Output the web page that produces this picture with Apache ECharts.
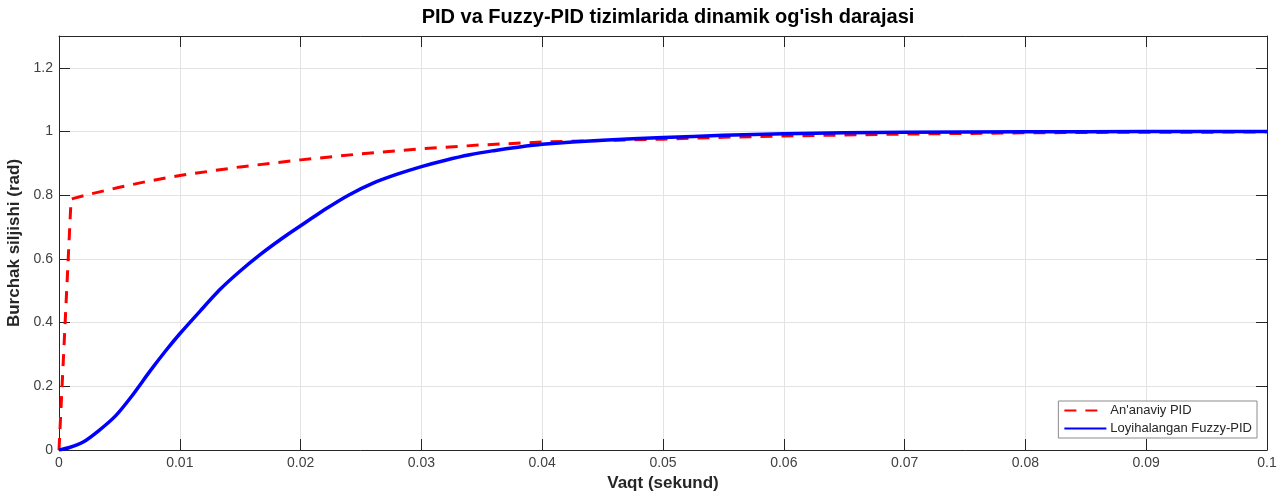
<!DOCTYPE html>
<html>
<head>
<meta charset="utf-8">
<script src="https://cdn.jsdelivr.net/npm/echarts@6/dist/echarts.min.js"></script>
<style>
  html, body { margin: 0; padding: 0; background: #fff; }
  #chart { width: 1287px; height: 492px; }
</style>
</head>
<body>
<div id="chart"></div>
<script>
// values
const pidT = [0, 0.001, 0.0025, 0.005, 0.0075, 0.01, 0.015, 0.02, 0.025, 0.03, 0.035, 0.04, 0.045, 0.05, 0.055, 0.06, 0.065, 0.07, 0.075, 0.08, 0.085, 0.09, 0.095, 0.1];
const pidY = [0, 0.788, 0.803, 0.825, 0.845, 0.862, 0.889, 0.911, 0.93, 0.946, 0.958, 0.967, 0.972, 0.976, 0.982, 0.986, 0.989, 0.992, 0.994, 0.996, 0.997, 0.998, 0.998, 0.999];

const fuzzyT = [0, 0.0008, 0.002, 0.0033, 0.0047, 0.006, 0.0075, 0.0088, 0.01, 0.0117, 0.0133, 0.015, 0.0167, 0.0186, 0.02, 0.022, 0.024, 0.026, 0.028, 0.03, 0.032, 0.034, 0.036, 0.038, 0.04, 0.045, 0.05, 0.055, 0.06, 0.065, 0.07, 0.08, 0.09, 0.1];
const fuzzyY = [0, 0.007, 0.025, 0.061, 0.108, 0.168, 0.246, 0.31, 0.365, 0.437, 0.503, 0.562, 0.615, 0.668, 0.704, 0.755, 0.801, 0.838, 0.866, 0.89, 0.91, 0.927, 0.94, 0.951, 0.96, 0.973, 0.981, 0.988, 0.993, 0.996, 0.998, 0.999, 1, 1];

const seriesNames = ["An'anaviy PID", 'Loyihalangan Fuzzy-PID'];

const pair = (xs, ys) => xs.map((x, i) => [x, ys[i]]);

const font = 'Liberation Sans, Arial, Helvetica, sans-serif';
const axisColor = '#262626';
const gridColor = '#e3e3e3';

const chart = echarts.init(document.getElementById('chart'));
chart.setOption({
  animation: false,
  backgroundColor: '#fff',
  textStyle: { fontFamily: font },
  title: {
    text: "PID va Fuzzy-PID tizimlarida dinamik og'ish darajasi",
    left: 663,
    textAlign: 'center',
    top: 2,
    textStyle: { fontSize: 20, fontWeight: 'bold', color: '#000', fontFamily: font }
  },
  grid: { left: 59, right: 20, top: 36, bottom: 42, containLabel: false, outerBoundsMode: 'none' },
  legend: {
    orient: 'vertical',
    right: 30,
    bottom: 54,
    itemWidth: 42,
    itemHeight: 12,
    itemGap: 5,
    padding: [3, 5, 3, 5],
    backgroundColor: '#fff',
    borderColor: '#8c8c8c',
    borderWidth: 1,
    borderRadius: 0,
    align: 'left',
    itemStyle: { color: 'rgba(0,0,0,0)', borderWidth: 0, opacity: 0 },
    textStyle: { fontSize: 13, color: '#262626', fontFamily: font, padding: [0, 0, 0, -1] },
    data: seriesNames
  },
  xAxis: [
    {
      type: 'value', min: 0, max: 0.1, interval: 0.01,
      name: 'Vaqt (sekund)', nameLocation: 'middle', nameGap: 25,
      nameTextStyle: { fontSize: 17, fontWeight: 'bold', color: '#262626', fontFamily: font },
      axisLine: { show: true, lineStyle: { color: axisColor, width: 1 } },
      axisTick: { show: true, inside: true, length: 11, lineStyle: { color: axisColor } },
      axisLabel: { fontSize: 14, color: '#404040', margin: 6, fontFamily: font },
      splitLine: { show: true, lineStyle: { color: gridColor, width: 1 } }
    },
    {
      type: 'value', min: 0, max: 0.1, interval: 0.01, position: 'top',
      axisLine: { show: true, onZero: false, lineStyle: { color: axisColor, width: 1 } },
      axisTick: { show: true, inside: true, length: 11, lineStyle: { color: axisColor } },
      axisLabel: { show: false },
      splitLine: { show: false }
    }
  ],
  yAxis: [
    {
      type: 'value', min: 0, max: 1.3, interval: 0.2,
      name: 'Burchak siljishi (rad)', nameLocation: 'middle', nameGap: 30,
      nameTextStyle: { fontSize: 17, fontWeight: 'bold', color: '#262626', fontFamily: font },
      axisLine: { show: true, lineStyle: { color: axisColor, width: 1 } },
      axisTick: { show: true, inside: true, length: 11, lineStyle: { color: axisColor } },
      axisLabel: { fontSize: 14, color: '#404040', margin: 6, showMaxLabel: false, fontFamily: font },
      splitLine: { show: true, lineStyle: { color: gridColor, width: 1 } }
    },
    {
      type: 'value', min: 0, max: 1.3, interval: 0.2, position: 'right',
      axisLine: { show: true, onZero: false, lineStyle: { color: axisColor, width: 1 } },
      axisTick: { show: true, inside: true, length: 11, lineStyle: { color: axisColor } },
      axisLabel: { show: false },
      splitLine: { show: false }
    }
  ],
  series: [
    {
      name: seriesNames[0],
      type: 'line',
      symbol: 'none',
      smooth: false,
      data: pair(pidT, pidY),
      lineStyle: { color: '#ff0000', width: 3, type: [12, 9] },
      itemStyle: { color: '#ff0000' },
      z: 2
    },
    {
      name: seriesNames[1],
      type: 'line',
      symbol: 'none',
      smooth: 0.2,
      data: pair(fuzzyT, fuzzyY),
      lineStyle: { color: '#0000ff', width: 3.5 },
      itemStyle: { color: '#0000ff' },
      z: 3
    }
  ]
});
</script>
</body>
</html>
